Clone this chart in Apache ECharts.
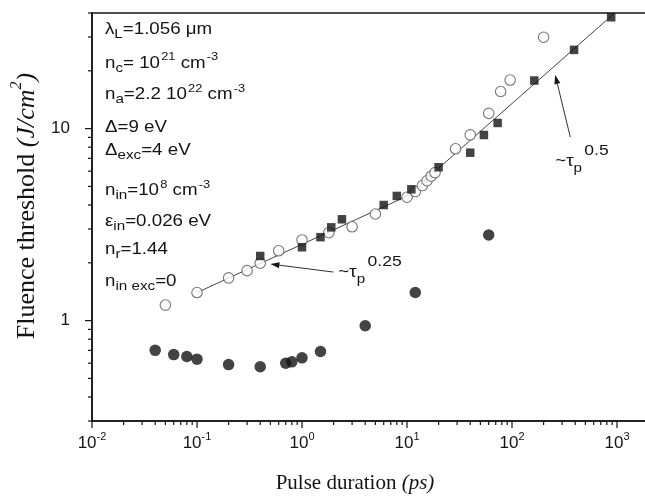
<!DOCTYPE html>
<html><head><meta charset="utf-8">
<script src="https://cdn.jsdelivr.net/npm/echarts@6/dist/echarts.min.js"></script>
<style>html,body{margin:0;padding:0;background:#fff}#c{width:645px;height:498px}</style>
</head><body><div id="c"></div>
<script>
// ---- data ----
const filledCircleX = [0.04, 0.06, 0.08, 0.1, 0.2, 0.4, 0.7, 0.8, 1.0, 1.5, 4, 12, 60];
const filledCircleY = [0.70, 0.665, 0.65, 0.63, 0.59, 0.575, 0.60, 0.61, 0.64, 0.69, 0.94, 1.40, 2.79];

const openCircleX = [0.05, 0.1, 0.2, 0.3, 0.4, 0.6, 1.0, 1.8, 3.0, 5.0, 10, 12, 14, 15.5, 17, 18.5, 29, 40, 60, 78, 96, 200];
const openCircleY = [1.205, 1.40, 1.67, 1.82, 1.99, 2.31, 2.63, 2.87, 3.08, 3.59, 4.39, 4.7, 5.05, 5.35, 5.65, 5.9, 7.85, 9.27, 12.0, 15.6, 17.9, 29.9];

const squareX = [0.4, 1.0, 1.5, 1.9, 2.4, 6, 8, 11, 20, 40, 54, 73, 163, 390, 880];
const squareY = [2.17, 2.41, 2.72, 3.06, 3.37, 4.0, 4.46, 4.83, 6.29, 7.49, 9.26, 10.7, 17.8, 25.7, 38];

const fitX = [0.1, 10, 950];
const fitY = [1.40, 4.45, 40];

const xDecades = [-2, -1, 0, 1, 2, 3, 4];
const yDecades = [-1, 0, 1];
const tickMultipliers = [1, 2, 3, 4, 5, 6, 7, 8, 9];

// annotation anchors in data units
const arrowA = {tip: [0.5, 1.97], tail: [1.99, 1.79], text: [2.22, 1.77], exp: '0.25'};
const arrowB = {tip: [258, 19.0], tail: [359, 9.04], text: [258, 6.70], exp: '0.5'};

const infoLines = [
  [['λ','m'],['L','sub'],['=1.056 μm','m']],
  [['n','m'],['c','sub'],['= 10','m'],['21','sup'],[' cm','m'],['-3','sup']],
  [['n','m'],['a','sub'],['=2.2 10','m'],['22','sup'],[' cm','m'],['-3','sup']],
  [['Δ=9 eV','m']],
  [['Δ','m'],['exc','sub'],['=4 eV','m']],
  [['n','m'],['in','sub'],['=10','m'],['8','sup'],[' cm','m'],['-3','sup']],
  [['ε','m'],['in','sub'],['=0.026 eV','m']],
  [['n','m'],['r','sub'],['=1.44','m']],
  [['n','m'],['in exc','sub'],['=0','m']]
];

// ---- build ----
const XMIN = 0.01, XMAX = 10000, YMIN = 0.3, YMAX = 40;
const xTicks = [], yTicks = [];
xDecades.forEach(d => tickMultipliers.forEach(m => { const v = m * Math.pow(10, d); if (v >= XMIN && v <= XMAX) xTicks.push(v); }));
yDecades.forEach(d => tickMultipliers.forEach(m => { const v = m * Math.pow(10, d); if (v >= YMIN - 1e-9 && v <= YMAX + 1e-9) yTicks.push(v); }));

const zip = (a, b) => a.map((v, i) => [v, b[i]]);
const isPow10 = v => Math.abs(Math.log10(v) - Math.round(Math.log10(v))) < 1e-6;

const SANS = 'Liberation Sans';
const SERIF = 'Liberation Serif';
const INK = '#141414';

function tickSeries(values, dir) {
  return {
    type: 'custom', coordinateSystem: 'cartesian2d', clip: false, silent: true, z: 6,
    renderItem: (params, api) => {
      const cs = params.coordSys;
      const v = api.value(dir === 'x' ? 0 : 1);
      const len = isPow10(v) ? 7 : 4;
      if (dir === 'x') {
        const px = api.coord([v, 1])[0];
        const y0 = cs.y + cs.height;
        return {type: 'line', shape: {x1: px, y1: y0, x2: px, y2: y0 + len}, style: {stroke: INK, lineWidth: 1.2}};
      }
      const py = api.coord([1, v])[1];
      return {type: 'line', shape: {x1: cs.x - len, y1: py, x2: cs.x, y2: py}, style: {stroke: INK, lineWidth: 1.2}};
    },
    data: dir === 'x' ? values.map(v => [v, 1]) : values.map(v => [1, v])
  };
}

const chart = echarts.init(document.getElementById('c'), null, {renderer: 'canvas'});

const option = {
  animation: false,
  backgroundColor: '#fff',
  grid: {left: 92, top: 13, right: -77, bottom: 77, outerBoundsMode: 'none', containLabel: false,
         show: true, borderColor: INK, borderWidth: 1.5, backgroundColor: 'transparent'},
  xAxis: {
    type: 'log', logBase: 10, min: XMIN, max: XMAX, splitNumber: 6,
    axisLine: {show: true, lineStyle: {color: INK, width: 1.5}},
    axisTick: {show: false}, splitLine: {show: false}, minorTick: {show: false},
    axisLabel: {
      margin: 8, showMinLabel: true,
      formatter: v => isPow10(v) ? '{b|10}{s|' + Math.round(Math.log10(v)) + '}' : '',
      rich: {
        b: {fontFamily: SANS, fontSize: 17, lineHeight: 17, color: INK, verticalAlign: 'top', padding: [6, 0, 0, 0]},
        s: {fontFamily: SANS, fontSize: 11, lineHeight: 11, color: INK, verticalAlign: 'top', padding: [2, 0, 0, 0]}
      }
    },
    name: '{n|Pulse duration }{i|(ps)}', nameLocation: 'middle', nameGap: 52,
    nameTextStyle: {
      padding: [0, 104, 0, 0],
      rich: {
        n: {fontFamily: SERIF, fontSize: 21, color: INK},
        i: {fontFamily: SERIF, fontSize: 21, fontStyle: 'italic', color: INK}
      }
    }
  },
  yAxis: {
    type: 'log', logBase: 10, min: YMIN, max: YMAX, splitNumber: 2,
    axisLine: {show: true, lineStyle: {color: INK, width: 1.5}},
    axisTick: {show: false}, splitLine: {show: false}, minorTick: {show: false},
    axisLabel: {
      margin: 22, showMinLabel: false, showMaxLabel: false,
      fontFamily: SANS, fontSize: 17, color: INK,
      formatter: v => isPow10(v) ? String(Math.round(v)) : ''
    },
    name: '{n|Fluence threshold }{i|(J/cm}{s|2}{i|)}', nameLocation: 'middle', nameRotate: 90, nameGap: 49,
    nameTextStyle: {
      padding: [0, 0, 0, 22],
      rich: {
        n: {fontFamily: SERIF, fontSize: 26, lineHeight: 26, color: INK, verticalAlign: 'top', padding: [7, 0, 0, 0]},
        i: {fontFamily: SERIF, fontSize: 26, lineHeight: 26, fontStyle: 'italic', color: INK, verticalAlign: 'top', padding: [7, 0, 0, 0]},
        s: {fontFamily: SERIF, fontSize: 16, lineHeight: 16, fontStyle: 'italic', color: INK, verticalAlign: 'top', padding: [2, 0, 0, 0]}
      }
    }
  },
  series: [
    {type: 'line', data: zip(fitX, fitY), showSymbol: false, symbol: 'none', silent: true,
     lineStyle: {color: '#444', width: 1}, z: 2},
    {type: 'scatter', data: zip(openCircleX, openCircleY), symbol: 'circle', symbolSize: 10.5,
     itemStyle: {color: '#fff', borderColor: '#555', borderWidth: 1.1}, z: 3},
    {type: 'scatter', data: zip(squareX, squareY), symbol: 'rect', symbolSize: 8.5,
     itemStyle: {color: INK}, z: 4},
    {type: 'scatter', data: zip(filledCircleX, filledCircleY), symbol: 'circle', symbolSize: 11.5,
     itemStyle: {color: INK}, z: 4},
    tickSeries(xTicks, 'x'),
    tickSeries(yTicks, 'y')
  ]
};
chart.setOption(option);

// ---- annotations (text block and arrows) ----
const infoRich = {
  m: {fontFamily: SANS, fontSize: 16, lineHeight: 16, fill: INK, verticalAlign: 'top', padding: [8, 0, 0, 0]},
  sub: {fontFamily: SANS, fontSize: 13, lineHeight: 13, fill: INK, verticalAlign: 'top', padding: [14, 0, 0, 0]},
  sup: {fontFamily: SANS, fontSize: 11, lineHeight: 11, fill: INK, verticalAlign: 'top', padding: [4, 0, 0, 1]}
};
const infoCenters = [30, 63.5, 95, 128, 151, 191, 222, 250, 282];
const graphics = [];
infoLines.forEach((segs, i) => {
  graphics.push({
    type: 'text', x: 105, y: infoCenters[i] - 16, scaleX: 1.17, silent: true, z: 10,
    style: {text: segs.map(s => '{' + s[1] + '|' + s[0] + '}').join(''), rich: infoRich, align: 'left', verticalAlign: 'top'}
  });
});

const annRich = {
  m: {fontFamily: SANS, fontSize: 16, lineHeight: 16, fill: INK, verticalAlign: 'top', padding: [14, 0, 0, 0]},
  sub: {fontFamily: SANS, fontSize: 13, lineHeight: 13, fill: INK, verticalAlign: 'top', padding: [22, 0, 0, 0]},
  sup: {fontFamily: SANS, fontSize: 15, lineHeight: 15, fill: INK, verticalAlign: 'top', padding: [3, 0, 0, 2]}
};
const toPx = p => chart.convertToPixel({gridIndex: 0}, p);
[arrowA, arrowB].forEach(a => {
  const tip = toPx(a.tip), tail = toPx(a.tail), tp = toPx(a.text);
  const dx = tip[0] - tail[0], dy = tip[1] - tail[1], L = Math.hypot(dx, dy);
  const ux = dx / L, uy = dy / L, hl = 9, hw = 3;
  const bx = tip[0] - ux * hl, by = tip[1] - uy * hl;
  graphics.push({type: 'line', silent: true, z: 10, shape: {x1: tail[0], y1: tail[1], x2: bx, y2: by}, style: {stroke: '#333', lineWidth: 1}});
  graphics.push({type: 'polygon', silent: true, z: 10, shape: {points: [tip, [bx - uy * hw, by + ux * hw], [bx + uy * hw, by - ux * hw]]}, style: {fill: INK}});
  graphics.push({type: 'text', x: tp[0], y: tp[1] - 22, scaleX: 1.17, silent: true, z: 10,
    style: {text: '{m|~τ}{sub|p}{sup|' + a.exp + '}', rich: annRich, align: 'left', verticalAlign: 'top'}});
});
chart.setOption({graphic: graphics});
</script></body></html>
